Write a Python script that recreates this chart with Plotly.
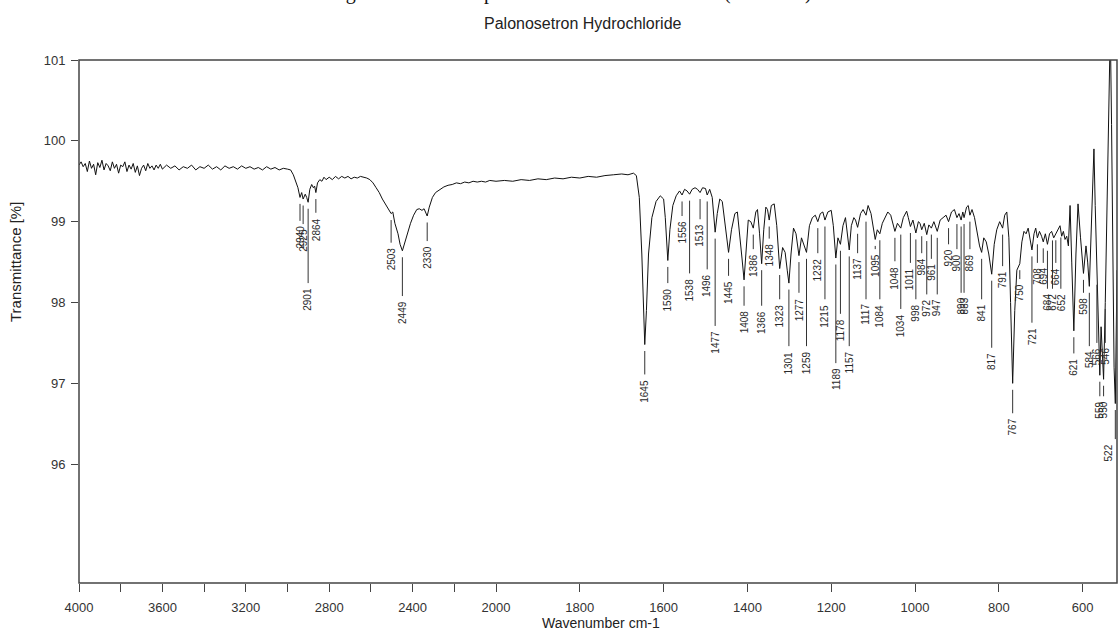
import numpy as np
import plotly.graph_objects as go

W, H = 1118, 633

# ---------------- spectrum data (wavenumber cm-1 / transmittance %) ----------------
WN_NOISE = [4000, 3990, 3980, 3970, 3960, 3950, 3940, 3930, 3920, 3910, 3900, 3890, 3880, 3870,
            3860, 3850, 3840, 3830, 3820, 3810, 3800, 3790, 3780, 3770, 3760, 3750, 3740, 3730,
            3720, 3710, 3700, 3690, 3680, 3670, 3660, 3650, 3640, 3630, 3620, 3610, 3600,
            3580, 3560, 3540, 3520, 3500, 3480, 3460, 3440, 3420, 3400, 3380, 3360, 3340, 3320,
            3300, 3280, 3260, 3240, 3220, 3200, 3180, 3160, 3140, 3120, 3100, 3080, 3060, 3040,
            3020, 3000]
T_NOISE = [99.70, 99.74, 99.68, 99.72, 99.62, 99.75, 99.66, 99.71, 99.58, 99.73, 99.67, 99.76, 99.64, 99.72,
           99.69, 99.63, 99.74, 99.66, 99.71, 99.60, 99.70, 99.68, 99.74, 99.62, 99.70, 99.65, 99.72, 99.61,
           99.69, 99.57, 99.66, 99.70, 99.63, 99.72, 99.66, 99.69, 99.64, 99.70, 99.66, 99.71, 99.65,
           99.70, 99.66, 99.69, 99.64, 99.68, 99.66, 99.70, 99.64, 99.68, 99.66, 99.70, 99.65, 99.68, 99.64,
           99.69, 99.66, 99.68, 99.65, 99.69, 99.66, 99.68, 99.65, 99.67, 99.64, 99.68, 99.65, 99.67, 99.64,
           99.66, 99.65]

WN_CH = [2985, 2972, 2960, 2950, 2940, 2932, 2925, 2915, 2908, 2901, 2893, 2884, 2876, 2870, 2864,
         2856, 2845, 2835, 2825, 2815, 2800, 2785, 2770, 2755, 2740, 2725, 2710, 2695, 2680, 2665,
         2650, 2635, 2620, 2605, 2590, 2575, 2560, 2545, 2530, 2515, 2503, 2495, 2485, 2470, 2460,
         2449, 2440, 2425, 2410, 2395, 2380, 2368, 2355, 2345, 2338, 2330, 2320, 2305, 2290, 2270,
         2250, 2230, 2210, 2190, 2170, 2150, 2130, 2110, 2090, 2070, 2050, 2030, 2010, 2000]
T_CH = [99.64, 99.58, 99.50, 99.42, 99.30, 99.36, 99.28, 99.34, 99.30, 99.24, 99.40, 99.46, 99.42, 99.44, 99.36,
        99.48, 99.52, 99.50, 99.55, 99.52, 99.55, 99.52, 99.56, 99.53, 99.56, 99.54, 99.56, 99.53, 99.55, 99.54,
        99.56, 99.55, 99.54, 99.52, 99.48, 99.42, 99.36, 99.28, 99.22, 99.16, 99.10, 99.12, 98.98, 98.85, 98.72,
        98.64, 98.72, 98.85, 98.98, 99.08, 99.15, 99.16, 99.14, 99.16, 99.12, 99.07, 99.18, 99.30, 99.36, 99.40,
        99.43, 99.45, 99.46, 99.48, 99.47, 99.49, 99.48, 99.50, 99.49, 99.50, 99.49, 99.51, 99.50, 99.50]

WN_FP1 = [2000, 1980, 1960, 1940, 1920, 1900, 1880, 1860, 1840, 1820, 1800, 1780, 1760, 1740, 1720,
          1700, 1685, 1672, 1665, 1658, 1652, 1648, 1645, 1641, 1636, 1628, 1618, 1608, 1600, 1596,
          1590, 1585, 1578, 1570, 1562, 1556, 1550, 1544, 1538, 1532, 1525, 1519, 1513, 1507, 1500,
          1496, 1490, 1484, 1477, 1472, 1466, 1460, 1452, 1445, 1438, 1430, 1424, 1418, 1413, 1408,
          1403, 1398, 1392, 1386, 1380, 1376, 1371, 1366, 1361, 1356, 1352, 1348, 1343, 1336, 1330,
          1323, 1316, 1310, 1305, 1301, 1296, 1290, 1284, 1277, 1271, 1265, 1259, 1252, 1245, 1238,
          1232, 1226, 1220, 1215, 1208, 1200]
T_FP1 = [99.50, 99.51, 99.50, 99.52, 99.51, 99.53, 99.52, 99.54, 99.53, 99.55, 99.54, 99.56, 99.55, 99.57, 99.58,
         99.59, 99.58, 99.60, 99.57, 99.30, 98.60, 97.90, 97.48, 97.90, 98.60, 99.05, 99.25, 99.32, 99.28, 99.05,
         98.52, 98.90, 99.20, 99.32, 99.38, 99.33, 99.40, 99.38, 99.34, 99.40, 99.42, 99.40, 99.36, 99.42, 99.41,
         99.33, 99.40, 99.30, 98.87, 99.10, 99.28, 99.25, 98.95, 98.62, 98.90, 99.10, 99.12, 98.85, 98.55, 98.28,
         98.70, 99.02, 99.00, 98.92, 99.12, 99.15, 98.85, 98.48, 98.90, 99.18, 99.15, 99.02, 99.20, 99.22, 98.95,
         98.42, 98.68, 98.62, 98.40, 98.24, 98.60, 98.92, 98.85, 98.58, 98.80, 98.72, 98.62, 98.95, 99.05, 99.08,
         99.00, 99.10, 99.12, 99.02, 99.12, 99.14]

WN_FP2 = [1195, 1189, 1184, 1178, 1172, 1166, 1162, 1157, 1152, 1146, 1142, 1137, 1130, 1124, 1117,
          1112, 1105, 1100, 1095, 1090, 1084, 1078, 1072, 1065, 1058, 1053, 1048, 1042, 1034, 1028,
          1020, 1016, 1011, 1005, 998, 992, 988, 984, 978, 972, 967, 961, 955, 947, 940,
          933, 926, 920, 913, 906, 900, 895, 890, 886, 883, 877, 873, 869, 864, 858,
          852, 846, 841, 836, 830, 824, 817, 811, 805, 798, 791, 786, 781, 776, 772,
          767, 762, 757, 750, 745, 740, 735, 730, 726, 721, 716, 712, 708, 703, 698,
          694, 689, 684, 679, 674, 669, 664, 659, 654, 650, 646, 642, 638, 634, 630,
          626, 621, 616, 611, 605, 598, 592, 588, 584, 580, 576, 573, 570, 566, 562,
          559, 556, 553, 550, 546, 543, 540, 537, 534, 531, 528, 525, 522, 519, 518]
T_FP2 = [98.95, 98.55, 98.80, 98.72, 98.95, 99.05, 98.90, 98.65, 98.95, 99.05, 99.02, 98.93, 99.10, 99.15, 99.08,
         99.20, 99.10, 98.95, 98.78, 98.90, 98.85, 98.98, 99.05, 99.12, 99.08, 98.98, 98.88, 98.98, 98.92, 99.05,
         99.13, 99.05, 98.94, 99.02, 98.86, 99.00, 98.98, 98.90, 98.98, 98.84, 98.96, 98.92, 99.00, 98.88, 99.02,
         99.05, 99.08, 99.00, 99.12, 99.15, 99.05, 99.10, 99.02, 99.12, 99.05, 99.18, 99.20, 99.08, 99.15, 99.05,
         98.85, 98.70, 98.62, 98.80, 98.75, 98.60, 98.35, 98.72, 98.90, 99.00, 98.92, 99.08, 99.12, 98.80, 98.00,
         97.00, 97.90, 98.40, 98.48, 98.75, 98.88, 98.85, 98.92, 98.80, 98.65, 98.85, 98.92, 98.80, 98.88, 98.82,
         98.75, 98.85, 98.72, 98.85, 98.88, 98.80, 98.85, 98.92, 98.95, 98.82, 98.88, 98.78, 98.82, 98.70, 99.20,
         98.50, 97.65, 98.60, 99.22, 98.80, 98.36, 98.70, 98.50, 98.20, 98.90, 99.50, 99.90, 99.20, 98.30, 97.60,
         97.10, 97.70, 97.30, 97.05, 98.00, 98.80, 99.60, 100.60, 101.40, 100.20, 98.40, 97.20, 96.75, 97.80, 98.40]

# ---------------- peak labels ----------------
PEAKS_HI = [2940, 2925, 2901, 2864, 2503, 2449, 2330]
LEVEL_HI = [98.96, 98.92, 98.19, 99.06, 98.69, 98.03, 98.71]   # transmittance where label text starts

PEAKS_LO = [1645, 1590, 1556, 1538, 1513, 1496, 1477, 1445, 1408, 1386,
            1366, 1348, 1323, 1301, 1277, 1259, 1232, 1215, 1189, 1178,
            1157, 1137, 1117, 1095, 1084, 1048, 1034, 1011, 998, 984,
            972, 961, 947, 920, 900, 890, 883, 869, 841, 817,
            791, 767, 750, 721, 708, 694, 684, 672, 664, 652,
            621, 598, 584, 566, 559, 550, 546, 522]
LEVEL_LO = [97.06, 98.19, 99.02, 98.31, 98.98, 98.36, 97.66, 98.28, 97.91, 98.61,
            97.91, 98.74, 97.99, 97.41, 98.07, 97.41, 98.56, 97.99, 97.20, 97.81,
            97.41, 98.56, 97.99, 98.61, 97.99, 98.46, 97.87, 98.44, 97.99, 98.56,
            98.05, 98.49, 98.05, 98.67, 98.61, 98.07, 98.07, 98.61, 97.99, 97.39,
            98.40, 96.58, 98.24, 97.70, 98.44, 98.44, 98.12, 98.12, 98.44, 98.12,
            97.32, 98.07, 97.41, 97.45, 96.79, 96.79, 97.45, 96.26]

X_TICKS_LO = [1800, 1600, 1400, 1200, 1000, 800, 600]
Y_TICKS = [96, 97, 98, 99, 100, 101]

TITLE = "Palonosetron Hydrochloride"
HEADING = "Figure 3: Infrared spectrum of Palonosetron HCl (reference)"
X_TITLE = "Wavenumber cm-1"
Y_TITLE = "Transmittance [%]"

assert len(WN_NOISE) == len(T_NOISE)
assert len(WN_CH) == len(T_CH)
assert len(WN_FP1) == len(T_FP1)
assert len(WN_FP2) == len(T_FP2)
assert len(PEAKS_LO) == len(LEVEL_LO)

wn_hi = WN_NOISE + WN_CH
t_hi = T_NOISE + T_CH
wn_lo = WN_FP1 + WN_FP2
t_lo = T_FP1 + T_FP2

# ---------------- geometry / style ----------------
PX_L, PX_B, PX_R, PX_T = 79, 583, 1117, 60
PX_SPLIT = 496
YMIN, YMAX = 94.53, 101
X_END = 518
INK = "#111111"
FRAME = "#444444"
LABEL_FONT = dict(family="Liberation Sans, Arial, sans-serif", size=10, color="#2a2a2a")
TICK_FONT = dict(family="Liberation Sans, Arial, sans-serif", size=13, color="#333333")

xd1 = [PX_L / W, PX_SPLIT / W]
xd2 = [PX_SPLIT / W, PX_R / W]
yd = [(H - PX_B) / H, (H - PX_T) / H]

GAP_TOP = 0.08
GAP_BOT = 0.05


def label_lines(peaks, levels, wn, t):
    wn = np.asarray(wn, float)
    t = np.asarray(t, float)
    order = np.argsort(wn)
    tp = np.interp(peaks, wn[order], t[order])
    xs, ys = [], []
    for p, tv, lv in zip(peaks, tp, levels):
        top, bot = tv - GAP_TOP, lv + GAP_BOT
        if top > bot:
            xs += [p, p, None]
            ys += [top, bot, None]
    return xs, ys


fig = go.Figure()
fig.add_trace(go.Scatter(x=wn_hi, y=t_hi, xaxis="x", yaxis="y", mode="lines",
                         line=dict(color=INK, width=1), hoverinfo="skip", showlegend=False))
fig.add_trace(go.Scatter(x=wn_lo, y=t_lo, xaxis="x2", yaxis="y", mode="lines",
                         line=dict(color=INK, width=1), hoverinfo="skip", showlegend=False))

lx, ly = label_lines(PEAKS_HI, LEVEL_HI, wn_hi, t_hi)
fig.add_trace(go.Scatter(x=lx, y=ly, xaxis="x", yaxis="y", mode="lines",
                         line=dict(color="#333333", width=1), hoverinfo="skip", showlegend=False))
lx, ly = label_lines(PEAKS_LO, LEVEL_LO, wn_lo, t_lo)
fig.add_trace(go.Scatter(x=lx, y=ly, xaxis="x2", yaxis="y", mode="lines",
                         line=dict(color="#333333", width=1), hoverinfo="skip", showlegend=False))

annotations = []
for xref, peaks, levels in (("x", PEAKS_HI, LEVEL_HI), ("x2", PEAKS_LO, LEVEL_LO)):
    for p, lv in zip(peaks, levels):
        # keep labels that sit at the very right edge inside the page
        anchor = "right" if (xref == "x2" and p - X_END < 8) else "center"
        annotations.append(dict(x=p, y=lv, xref=xref, yref="y", text=str(p), textangle=-90,
                                showarrow=False, xanchor=anchor, yanchor="top",
                                borderpad=0, font=LABEL_FONT))

annotations += [
    dict(x=583 / W, y=1 - 23 / H, xref="paper", yref="paper", text=TITLE, showarrow=False,
         xanchor="center", yanchor="middle",
         font=dict(family="Liberation Sans, Arial, sans-serif", size=16, color="#222222")),
    dict(x=328 / W, y=1 - 5 / H, xref="paper", yref="paper", text=HEADING, showarrow=False,
         xanchor="left", yanchor="bottom", borderpad=0,
         font=dict(family="Liberation Serif, Times New Roman, serif", size=20, color="#111111")),
    dict(x=601 / W, y=1 - 623 / H, xref="paper", yref="paper", text=X_TITLE, showarrow=False,
         xanchor="center", yanchor="middle",
         font=dict(family="Liberation Sans, Arial, sans-serif", size=14, color="#222222")),
    dict(x=15 / W, y=1 - 262 / H, xref="paper", yref="paper", text=Y_TITLE, showarrow=False,
         textangle=-90, xanchor="center", yanchor="middle",
         font=dict(family="Liberation Sans, Arial, sans-serif", size=15, color="#222222")),
]

axis_common = dict(showgrid=False, zeroline=False, showline=False, ticks="outside",
                   ticklen=8, tickwidth=1.2, tickcolor=FRAME, tickfont=TICK_FONT,
                   automargin=False, fixedrange=True)

fig.update_layout(
    width=W, height=H, autosize=False,
    margin=dict(l=0, r=0, t=0, b=0, pad=0),
    paper_bgcolor="white", plot_bgcolor="white",
    showlegend=False,
    xaxis=dict(domain=xd1, range=[4000, 2000], anchor="y", tickmode="linear", tick0=0, dtick=400,
               minor=dict(tick0=0, dtick=200, ticks="outside", ticklen=8, tickwidth=1.2,
                          tickcolor=FRAME, showgrid=False),
               ticklabelstandoff=4, **axis_common),
    xaxis2=dict(domain=xd2, range=[2000, X_END], anchor="y", tickmode="array",
                tickvals=X_TICKS_LO, ticktext=[str(v) for v in X_TICKS_LO],
                ticklabelstandoff=4, **axis_common),
    yaxis=dict(domain=yd, range=[YMIN, YMAX], anchor="x", tickmode="array",
               tickvals=Y_TICKS, ticktext=[str(v) for v in Y_TICKS],
               ticklabelstandoff=3, **{**axis_common, "ticklen": 7}),
    annotations=annotations,
    shapes=[dict(type="rect", xref="paper", yref="paper", x0=xd1[0], x1=xd2[1], y0=yd[0], y1=yd[1],
                 line=dict(color=FRAME, width=1.5), fillcolor="rgba(0,0,0,0)", layer="above")],
)

fig.write_html("out.html")
